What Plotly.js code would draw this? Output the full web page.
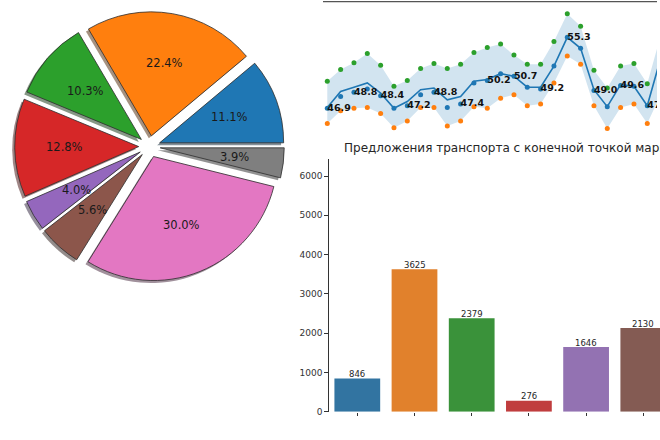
<!DOCTYPE html>
<html><head><meta charset="utf-8">
<script src="https://cdn.plot.ly/plotly-3.0.1.min.js"></script>
<style>html,body{margin:0;padding:0;background:#fff;overflow:hidden;} #chart{width:660px;height:440px;}</style>
</head><body><div id="chart"></div>
<script>
// ---------- data ----------
const pieShares = [11.1, 22.4, 10.3, 12.8, 4.0, 5.6, 30.0, 3.9];
const pieColors = ['#1f77b4','#ff7f0e','#2ca02c','#d62728','#9467bd','#8c564b','#e377c2','#7f7f7f'];

const lineIndex = [0,1,2,3,4,5,6,7,8,9,10,11,12,13,14,15,16,17,18,19,20,21,22,23,24,25];
const blueValues   = [46.9,48.3,48.8,49.2,48.4,46.9,47.2,48.5,48.8,47.0,47.4,49.9,50.2,51.0,50.7,49.4,49.2,51.9,55.3,54.0,49.0,47.1,49.6,49.5,47.2,52.8];
const greenValues  = [50.1,51.5,52.3,53.4,52.0,49.5,50.2,51.6,52.2,51.6,52.1,53.5,54.1,54.5,53.2,52.1,52.1,54.8,58.1,56.6,51.4,49.3,51.9,52.2,49.8,55.5];
const orangeValues = [45.1,46.6,46.9,47.0,46.3,44.6,45.4,47.0,47.0,44.8,45.4,47.1,46.9,48.1,48.5,47.2,47.4,49.9,53.1,52.1,47.2,44.5,47.0,47.4,45.1,48.5];
const meanValues   = [47.0,48.9,49.4,49.9,48.7,46.9,47.7,49.1,49.3,47.9,48.3,50.1,50.3,51.0,50.7,49.4,49.4,51.9,55.3,54.0,49.1,47.1,49.7,49.5,47.2,52.8];

const barCategories = ['0','1','2','3','4','5'];
const barValues = [846, 3625, 2379, 276, 1646, 2130];
const barColors = ['#3274a1','#e1812c','#3a923a','#c03d3e','#9372b2','#845b53'];
const barTicks = [0,1000,2000,3000,4000,5000,6000];
const barTitle = 'Предложения транспорта с конечной точкой маршрута';

// ---------- layout constants ----------
const W = 660, H = 440;
const FONT = 'DejaVu Sans';
const pull = 0.087;
const pieDX = [14.7/W, 284.3/W];
const pieDY = [1-281.3/H, 1-11.7/H];
const shadowDX = [pieDX[0]-2.5/W, pieDX[1]-2.5/W];
const shadowDY = [pieDY[0]-2.5/H, pieDY[1]-2.5/H];

const total = pieShares.reduce((a,b)=>a+b,0);
const rotation = 90 - 360*pieShares[0]/total;
const shadowColors = pieColors.map(c=>{
  const r=parseInt(c.slice(1,3),16), g=parseInt(c.slice(3,5),16), b=parseInt(c.slice(5,7),16);
  return `rgba(${Math.round(r*0.3)},${Math.round(g*0.3)},${Math.round(b*0.3)},0.5)`;
});

const traces = [];
traces.push({type:'pie', values:pieShares, sort:false, direction:'counterclockwise', rotation:rotation,
  pull:pieShares.map(()=>pull), marker:{colors:shadowColors, line:{width:0}}, textinfo:'none',
  hoverinfo:'skip', showlegend:false, domain:{x:shadowDX, y:shadowDY}});
traces.push({type:'pie', values:pieShares, sort:false, direction:'counterclockwise', rotation:rotation,
  pull:pieShares.map(()=>pull), marker:{colors:pieColors, line:{color:'rgba(45,45,45,0.8)', width:1}},
  textinfo:'none', hoverinfo:'skip', showlegend:false, domain:{x:pieDX, y:pieDY}});

// line chart: band, mean line, points
traces.push({type:'scatter', x:lineIndex, y:orangeValues, mode:'lines', line:{width:0, color:'rgba(0,0,0,0)'},
  xaxis:'x2', yaxis:'y2', hoverinfo:'skip', showlegend:false});
traces.push({type:'scatter', x:lineIndex, y:greenValues, mode:'lines', line:{width:0, color:'rgba(0,0,0,0)'},
  fill:'tonexty', fillcolor:'rgba(31,119,180,0.2)', xaxis:'x2', yaxis:'y2', hoverinfo:'skip', showlegend:false});
traces.push({type:'scatter', x:lineIndex, y:meanValues, mode:'lines', line:{width:1.6, color:'#1f77b4'},
  xaxis:'x2', yaxis:'y2', hoverinfo:'skip', showlegend:false});
traces.push({type:'scatter', x:lineIndex, y:orangeValues, mode:'markers', marker:{size:5, color:'#ff7f0e'},
  xaxis:'x2', yaxis:'y2', hoverinfo:'skip', showlegend:false});
traces.push({type:'scatter', x:lineIndex, y:greenValues, mode:'markers', marker:{size:5, color:'#2ca02c'},
  xaxis:'x2', yaxis:'y2', hoverinfo:'skip', showlegend:false});
traces.push({type:'scatter', x:lineIndex, y:blueValues, mode:'markers', marker:{size:5, color:'#1f77b4'},
  xaxis:'x2', yaxis:'y2', hoverinfo:'skip', showlegend:false});
traces.push({type:'scatter', x:lineIndex, y:blueValues, mode:'text',
  text:blueValues.map((v,i)=> (i%2===0 && i<25) ? v.toFixed(1) : ''), textposition:'middle right',
  textfont:{family:FONT, size:9.5, color:'#111', weight:'bold'},
  xaxis:'x2', yaxis:'y2', hoverinfo:'skip', showlegend:false});

// bar chart
traces.push({type:'bar', x:barCategories, y:barValues, marker:{color:barColors, line:{width:0}}, width:0.8,
  hoverinfo:'skip', showlegend:false, xaxis:'x', yaxis:'y'});

// pie percentage labels (matplotlib-style pctdistance 0.6)
const boxW = W*(pieDX[1]-pieDX[0]), boxH = H*(pieDY[1]-pieDY[0]);
const rPie = Math.min(boxW, boxH)/2/(1+pull);
const cx = W*(pieDX[0]+pieDX[1])/2, cy = H*(1-(pieDY[0]+pieDY[1])/2);
const annotations = [];
let cum = 0;
pieShares.forEach((v)=>{
  const mid = (cum + v/2)/total*2*Math.PI; cum += v;
  const d = (pull + 0.6)*rPie;
  const px = cx + d*Math.cos(mid), py = cy - d*Math.sin(mid);
  annotations.push({x:px/W, y:1-py/H, xref:'paper', yref:'paper', showarrow:false, xanchor:'center', yanchor:'middle',
    text:(v/total*100).toFixed(1)+'%', font:{family:FONT, size:11.5, color:'#1a1a1a'}});
});
// bar value labels
barValues.forEach((v,i)=>{
  annotations.push({x:barCategories[i], y:v, xref:'x', yref:'y', showarrow:false, xanchor:'center', yanchor:'bottom',
    yshift:-2.5, text:String(v), font:{family:FONT, size:8.5, color:'#262626'}});
});
annotations.push({x:342/W, y:1-148/H, xref:'paper', yref:'paper', showarrow:false, xanchor:'left', yanchor:'middle',
  text:barTitle, font:{family:FONT, size:12, color:'#262626'}});

const layout = {
  width:W, height:H, margin:{l:0,r:0,t:0,b:0}, paper_bgcolor:'#fff', plot_bgcolor:'rgba(0,0,0,0)',
  font:{family:FONT}, showlegend:false,
  xaxis:{domain:[328.7/W, 1], range:[-0.5, 5.292], type:'category', showline:false, showgrid:false, zeroline:false,
    ticks:'outside', ticklen:3.5, tickcolor:'#333', showticklabels:false, anchor:'y', fixedrange:true},
  yaxis:{domain:[1-411.7/H, 1-159/H], range:[0, 6433], showline:true, linecolor:'#333', linewidth:1,
    ticks:'outside', ticklen:3.5, tickcolor:'#333', tickvals:barTicks, ticktext:barTicks.map(String),
    tickfont:{family:FONT, size:9, color:'#333'}, showgrid:false, zeroline:false, anchor:'x', fixedrange:true},
  xaxis2:{domain:[323/W, 657/W], range:[-0.3226, 24.73], visible:false, anchor:'y2', fixedrange:true},
  yaxis2:{domain:[1-138/H, 1-3/H], range:[43.39, 59.36], visible:false, anchor:'x2', fixedrange:true},
  shapes:[{type:'line', xref:'paper', yref:'paper', x0:323/W, x1:657/W, y0:1-1.7/H, y1:1-1.7/H,
    line:{color:'#555', width:1.3}}],
  annotations:annotations
};
Plotly.newPlot('chart', traces, layout, {staticPlot:true, displayModeBar:false});
</script></body></html>
